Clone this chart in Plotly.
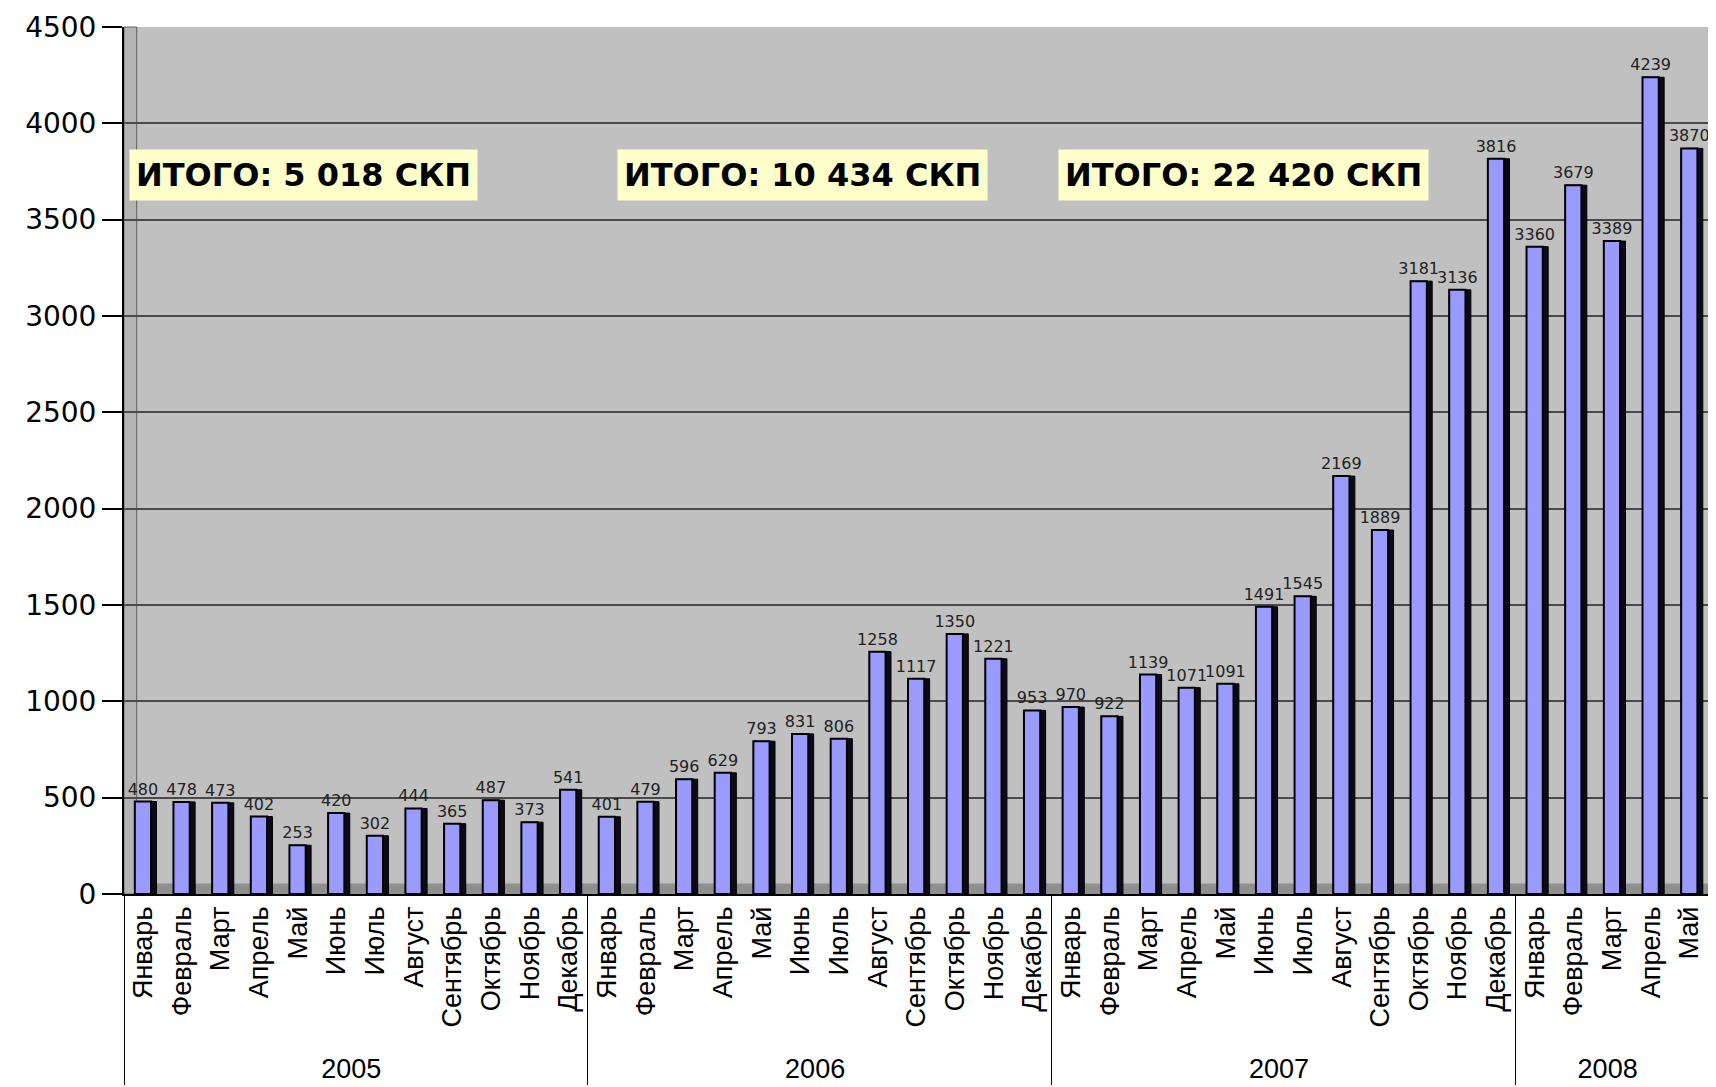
import plotly.graph_objects as go

years = ["2005"] * 12 + ["2006"] * 12 + ["2007"] * 12 + ["2008"] * 5
month_names = ["Январь", "Февраль", "Март", "Апрель", "Май", "Июнь", "Июль",
               "Август", "Сентябрь", "Октябрь", "Ноябрь", "Декабрь"]
months = month_names * 3 + month_names[:5]

values_2005 = [480, 478, 473, 402, 253, 420, 302, 444, 365, 487, 373, 541]
values_2006 = [401, 479, 596, 629, 793, 831, 806, 1258, 1117, 1350, 1221, 953]
values_2007 = [970, 922, 1139, 1071, 1091, 1491, 1545, 2169, 1889, 3181, 3136, 3816]
values_2008 = [3360, 3679, 3389, 4239, 3870]
values = values_2005 + values_2006 + values_2007 + values_2008

y_ticks = [0, 500, 1000, 1500, 2000, 2500, 3000, 3500, 4000, 4500]

totals_text = ["ИТОГО: 5 018 СКП", "ИТОГО: 10 434 СКП", "ИТОГО: 22 420 СКП"]
totals_xpos = [0.113, 0.428, 0.706]

x = [years, months]

fig = go.Figure()
# dark side face of the pseudo-3D columns
fig.add_trace(go.Bar(
    x=x, y=values, width=0.56, offset=-0.22,
    marker=dict(color="#0a0a1a", line=dict(color="black", width=1)),
    hoverinfo="skip", showlegend=False,
))
# front face
fig.add_trace(go.Bar(
    x=x, y=values, width=0.42, offset=-0.22,
    marker=dict(color="#9b9bff", line=dict(color="black", width=2)),
    text=[str(v) for v in values], textposition="outside", constraintext="none",
    textfont=dict(family="DejaVu Sans", size=16, color="#222222"),
    cliponaxis=False, showlegend=False,
))

for t, xp in zip(totals_text, totals_xpos):
    fig.add_annotation(
        x=xp, xref="paper", xanchor="center", y=3730, yref="y",
        text="<b>" + t + "</b>",
        showarrow=False, bgcolor="#ffffcc", borderpad=6,
        font=dict(family="DejaVu Sans", size=32, color="black"),
    )

# floor strip
fig.add_shape(type="rect", xref="x domain", yref="y domain", x0=0, x1=1, y0=0, y1=0.012,
              fillcolor="#8f8f8f", line=dict(width=0), layer="below")
# left side wall
fig.add_shape(type="rect", xref="x domain", yref="y domain", x0=0, x1=0.008, y0=0, y1=1,
              fillcolor="#b4b4b4", line=dict(color="#606060", width=1), layer="below")

fig.update_layout(
    width=1716, height=1087,
    margin=dict(l=116, r=15, t=19, b=185),
    paper_bgcolor="white", plot_bgcolor="#c0c0c0",
    barmode="overlay",
    font=dict(family="Liberation Sans, Arial", color="black"),
    hovermode=False,
)
fig.update_xaxes(
    type="multicategory", tickangle=-90, automargin=True,
    tickfont=dict(family="Liberation Sans, Arial", size=27, color="black"),
    showdividers=True, dividercolor="black", dividerwidth=1,
    showline=True, linecolor="black", linewidth=1.5,
    showgrid=False, ticks="",
)
fig.update_yaxes(
    range=[0, 4500], tickvals=y_ticks, automargin=False,
    tickfont=dict(family="DejaVu Sans", size=28, color="black"),
    showgrid=True, gridcolor="#4a4a4a", gridwidth=2,
    showline=True, linecolor="black", linewidth=2,
    ticks="outside", ticklen=20, tickcolor="black", tickwidth=1.5,
    zeroline=False,
)

fig.write_html("out.html")
